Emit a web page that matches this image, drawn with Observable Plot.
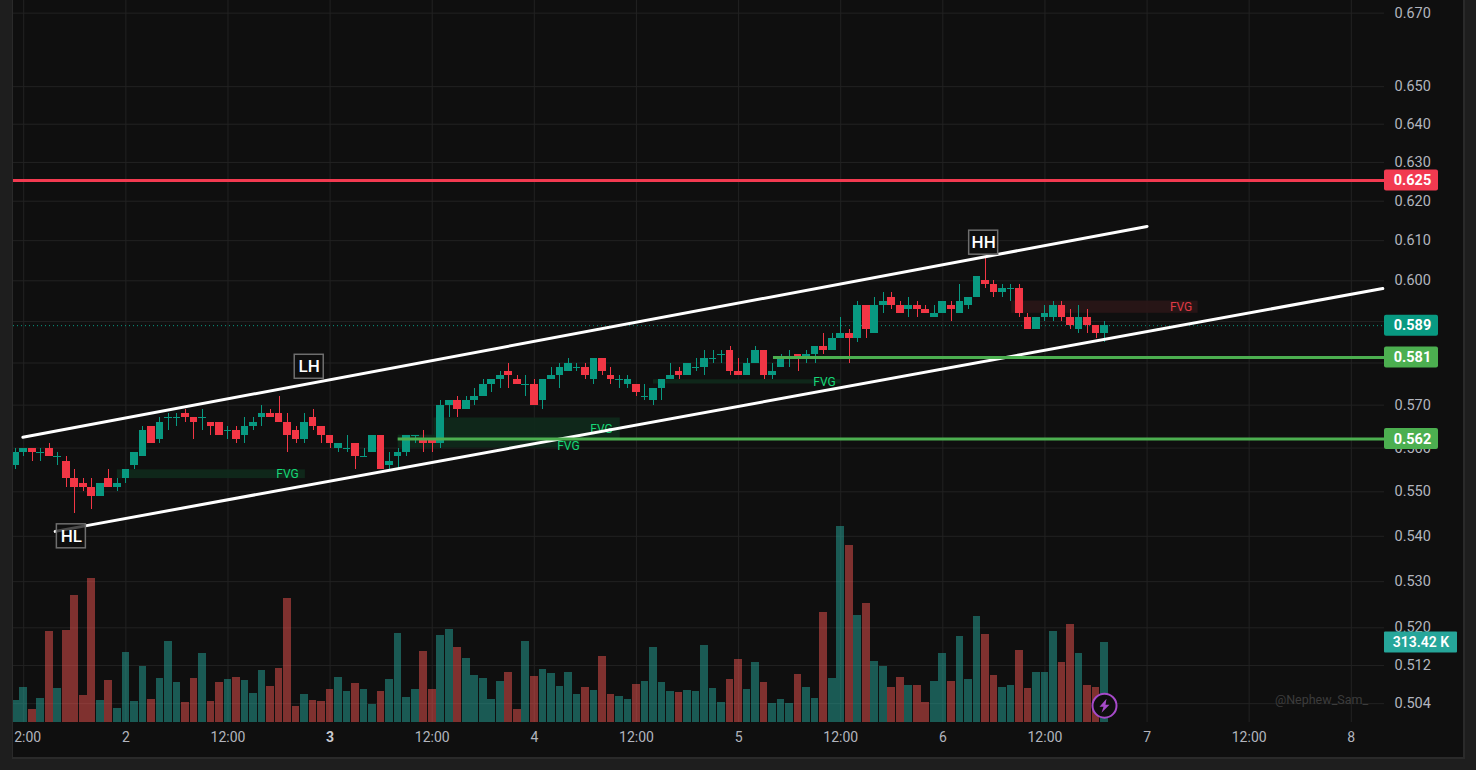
<!DOCTYPE html>
<html>
<head>
<meta charset="utf-8">
<script src="https://cdn.jsdelivr.net/npm/d3@7"></script>
<script src="https://cdn.jsdelivr.net/npm/@observablehq/plot@0.6"></script>
<style>
html,body{margin:0;padding:0;background:#1e1e1e;width:1476px;height:770px;overflow:hidden}
#wrap{position:absolute;left:12px;top:0;width:1450px;height:757px;border-left:1px solid #2a2a2a;border-right:2px solid #2a2a2a;border-bottom:2px solid #2a2a2a;background:#0f0f0f}
#wrap svg{position:absolute;left:0;top:0}
</style>
</head>
<body>
<div id="wrap"></div>
<script>
// Hourly candles, first one 13 hours before the start of day 2
const firstHour = -13;
const opens = [
.556,.559,.560,.559,.560,.558,.557,.553,.552,.551,
.549,.553,.551,.553,.556,.558,.565,.562,.567,.567,
.568,.567,.567,.566,.566,.564,.564,.563,.565,.567,
.568,.568,.566,.564,.562,.567,.565,.563,.560,.560,
.561,.558,.559,.563,.556,.558,.559,.563,.562,.562,
.561,.570,.571,.569,.571,.572,.575,.576,.578,.576,
.575,.575,.571,.576,.577,.578,.579,.579,.576,.581,
.577,.576,.575,.575,.572,.571,.574,.576,.578,.577,
.579,.579,.581,.582,.583,.578,.577,.580,.583,.577,
.579,.581,.582,.581,.582,.584,.583,.586,.587,.586,
.594,.587,.594,.596,.594,.593,.594,.593,.591,.592,
.594,.592,.594,.596,.600,.599,.597,.598,.598,.591,
.588,.591,.591,.594,.591,.588,.591,.589,.587];
const highs = [
.560,.560,.560,.560,.561,.559,.558,.555,.553,.553,
.552,.555,.553,.555,.559,.565,.565,.567,.568,.568,
.569,.567,.569,.566,.566,.565,.565,.567,.567,.570,
.569,.572,.568,.565,.568,.569,.565,.563,.561,.563,
.561,.560,.563,.563,.559,.560,.563,.563,.564,.562,
.571,.571,.572,.572,.574,.576,.576,.578,.580,.577,
.577,.576,.576,.579,.580,.581,.580,.580,.581,.581,
.579,.577,.577,.575,.575,.574,.576,.580,.579,.580,
.581,.583,.583,.583,.584,.581,.581,.584,.583,.580,
.582,.583,.582,.583,.584,.587,.587,.591,.588,.595,
.594,.596,.597,.597,.595,.596,.595,.594,.594,.595,
.595,.599,.596,.601,.606,.600,.599,.599,.599,.592,
.591,.594,.595,.595,.593,.594,.593,.589,.590];
const lows = [
.555,.558,.557,.557,.558,.556,.551,.545,.550,.546,
.549,.551,.550,.552,.555,.558,.561,.561,.564,.565,
.566,.562,.564,.563,.563,.562,.561,.561,.564,.565,
.567,.566,.559,.561,.561,.564,.561,.560,.559,.559,
.555,.558,.559,.555,.555,.555,.558,.561,.559,.559,
.560,.567,.567,.569,.570,.572,.573,.574,.574,.575,
.572,.570,.569,.576,.574,.578,.578,.576,.575,.577,
.575,.574,.574,.572,.571,.570,.571,.576,.576,.577,
.578,.577,.580,.580,.577,.577,.577,.580,.576,.576,
.579,.579,.578,.580,.580,.582,.583,.586,.580,.585,
.586,.587,.592,.593,.592,.591,.591,.592,.591,.592,
.590,.592,.593,.596,.598,.596,.596,.595,.591,.588,
.588,.590,.590,.590,.588,.587,.587,.586,.585];
const closes = [
.559,.560,.559,.559,.558,.558,.553,.551,.551,.549,
.552,.551,.552,.555,.559,.564,.561,.566,.567,.567,
.567,.566,.567,.565,.563,.564,.562,.565,.566,.568,
.567,.566,.563,.562,.566,.565,.563,.561,.561,.560,
.558,.558,.563,.555,.557,.559,.563,.563,.561,.561,
.570,.571,.569,.571,.572,.575,.576,.577,.577,.575,
.575,.570,.576,.577,.579,.580,.579,.577,.581,.578,
.576,.576,.576,.573,.572,.574,.576,.577,.577,.580,
.579,.581,.581,.582,.578,.577,.580,.583,.577,.578,
.581,.581,.581,.582,.584,.583,.586,.587,.586,.594,
.588,.594,.595,.594,.592,.594,.593,.592,.592,.595,
.593,.595,.596,.601,.599,.597,.598,.598,.592,.588,
.591,.592,.594,.591,.589,.591,.589,.587,.589];
const volumes = [
86,137,51,94,357,133,360,498,106,564,
86,165,55,274,82,219,90,172,317,157,
78,172,270,82,157,168,176,165,114,204,
141,212,486,63,110,86,82,129,176,121,
153,129,71,121,168,349,98,129,278,129,
341,364,294,251,184,172,90,161,196,51,
317,180,208,192,141,196,110,137,125,259,
110,102,90,149,161,294,157,121,118,125,
121,302,133,78,168,247,129,235,157,74,
90,74,188,137,94,431,172,768,693,419,
466,239,219,137,176,145,145,78,161,270,
161,337,168,415,345,184,137,145,282,133,
196,196,357,235,384,270,145,137,313.42];

const xTicks = [-12,0,12,24,36,48,60,72,84,96,108,120,132,144];
const xLabels = ["12:00","2","12:00","3","12:00","4","12:00","5","12:00","6","12:00","7","12:00","8"];
const priceGrid = [0.67,0.65,0.64,0.63,0.62,0.61,0.6,0.59,0.58,0.57,0.56,0.55,0.54,0.53,0.52,0.512,0.504];
const priceLabels = [0.67,0.65,0.64,0.63,0.62,0.61,0.6,0.57,0.56,0.55,0.54,0.53,0.52,0.512,0.504];

const levels = [
  {price:0.6253,from:-13.2,color:"#f23a50"},
  {price:0.5813,from:76.1,color:"#4caf50"},
  {price:0.5621,from:32,color:"#4caf50"}
];
const lastPrice = 0.589;
const lastVolume = 313.42;
const channels = [
  {id:"upper",h:-12.1,p:0.5625},{id:"upper",h:120,p:0.6136},
  {id:"lower",h:-8.3,p:0.5411},{id:"lower",h:147.7,p:0.5981}
];
const gaps = [
  {h1:-1,h2:21.1,p1:0.553,p2:0.555,th:19,tp:0.5540,fill:"#0f2a1c",ink:"#16d877"},
  {h1:36.2,h2:58.1,p1:0.562,p2:0.567,th:55.9,tp:0.5645,fill:"#0f2a1c",ink:"#16d877"},
  {h1:32,h2:53.4,p1:0.560,p2:0.563,th:52,tp:0.5605,fill:"#0f2a1c",ink:"#16d877"},
  {h1:62,h2:84.1,p1:0.575,p2:0.576,th:82.1,tp:0.5755,fill:"#0f2a1c",ink:"#16d877"},
  {h1:104.1,h2:126,p1:0.592,p2:0.595,th:124,tp:0.5935,fill:"#2a1617",ink:"#e03a46"}
];
const pivots = [
  {h:-6.4,p:0.5400,t:"HL"},
  {h:21.55,p:0.5791,t:"LH"},
  {h:100.8,p:0.6095,t:"HH"}
];
const watermark = [{h:140.5,p:0.5047,t:"@Nephew_Sam_"}];

const candles = opens.map((o,i)=>({h:firstHour+i,o,hi:highs[i],lo:lows[i],c:closes[i],v:volumes[i],up:closes[i]>=o}));
const up="#089981", down="#f23645";
const colorOf=d=>d.up?up:down;
const xDomain=[-13.2,147.9];
const xMax=xDomain[1];
const font="Roboto, sans-serif";
const base={width:1450,height:757,marginLeft:0,marginRight:79,marginTop:0,marginBottom:35,
  style:{fontFamily:font,fontSize:"14px",position:"absolute"}};
const label=d=>xLabels[xTicks.indexOf(d)];

const price = Plot.plot({...base,
  style:{...base.style,background:"#0f0f0f",color:"#b2b5be"},
  x:{domain:xDomain},
  y:{type:"log",domain:[0.5001,0.6735]},
  marks:[
    Plot.gridX(xTicks,{stroke:"#222",strokeOpacity:1}),
    Plot.gridY(priceGrid,{stroke:"#222",strokeOpacity:1}),
    Plot.axisX(xTicks.filter(d=>d!==24),{tickSize:0,tickPadding:10,tickFormat:label,label:null,fill:"#b2b5be",fontSize:14}),
    Plot.axisX([24],{tickSize:0,tickPadding:10,tickFormat:label,label:null,fill:"#c8cad0",fontSize:14,fontWeight:700}),
    Plot.axisY(priceLabels,{anchor:"right",tickSize:0,tickPadding:10,tickFormat:d=>d.toFixed(3),label:null,fill:"#b2b5be",fontSize:14.5}),
    // fair value gaps
    Plot.rect(gaps,{x1:"h1",x2:"h2",y1:"p1",y2:"p2",fill:"fill",fillOpacity:0.9}),
    // last price dotted line
    Plot.ruleY([lastPrice],{stroke:up,strokeDasharray:"1,3",strokeWidth:1}),
    // wicks and bodies
    Plot.ruleX(candles,{x:"h",y1:"lo",y2:"hi",stroke:colorOf,shapeRendering:"crispEdges"}),
    Plot.rect(candles.filter(d=>d.o!==d.c),{x1:d=>d.h-0.45,x2:d=>d.h+0.45,y1:"o",y2:"c",fill:colorOf,shapeRendering:"crispEdges"}),
    Plot.ruleY(candles.filter(d=>d.o===d.c),{y:"c",x1:d=>d.h-0.45,x2:d=>d.h+0.45,stroke:colorOf,shapeRendering:"crispEdges"}),
    Plot.text(gaps,{x:"th",y:"tp",text:()=>"FVG",fill:"ink",fontSize:12}),
    // channel and level lines
    Plot.line(channels,{x:"h",y:"p",z:"id",stroke:"#ffffff",strokeWidth:3}),
    Plot.ruleY(levels,{y:"price",x1:"from",x2:()=>xMax,stroke:"color",strokeWidth:3}),
    // pivots
    Plot.rect(pivots,{x1:"h",x2:"h",y1:"p",y2:"p",insetLeft:-14.5,insetRight:-14.5,insetTop:-12,insetBottom:-12,fill:"#0f0f0f",fillOpacity:0.75,stroke:"#6e6e6e",strokeWidth:1.5}),
    Plot.text(pivots,{x:"h",y:"p",text:"t",fill:"#ffffff",fontSize:17,fontWeight:500}),
    Plot.text(watermark,{x:"h",y:"p",text:"t",fill:"#3c3c3c",fontSize:12.5}),
    // axis tags
    Plot.rect(levels,{x1:()=>xMax,x2:()=>xMax,y1:"price",y2:"price",insetLeft:0,insetRight:-54,insetTop:-10.5,insetBottom:-10.5,fill:"color",rx:2}),
    Plot.rect([lastPrice],{x1:()=>xMax,x2:()=>xMax,y1:d=>d,y2:d=>d,insetLeft:0,insetRight:-54,insetTop:-10.5,insetBottom:-10.5,fill:up,rx:2}),
    Plot.text(levels,{x:()=>xMax,y:"price",text:d=>d.price.toFixed(3),dx:28,fill:"#fff",fontSize:14.5,fontWeight:700}),
    Plot.text([lastPrice],{x:()=>xMax,y:d=>d,text:d=>d.toFixed(3),dx:28,fill:"#fff",fontSize:14.5,fontWeight:700})
  ]
});

// lightning bolt icon of the live marker
const bolt={draw(ctx){ctx.moveTo(2,-7);ctx.lineTo(-5,1);ctx.lineTo(-1,1);ctx.lineTo(-3,7);ctx.lineTo(5,-1);ctx.lineTo(1,-1);ctx.closePath();}};
const marker=[{h:115,v:66}];

const volume = Plot.plot({...base,
  style:{...base.style,background:"transparent"},
  x:{domain:xDomain,axis:null},
  y:{domain:[0,2829],axis:null},
  marks:[
    Plot.rect(candles,{x1:d=>d.h-0.45,x2:d=>d.h+0.45,y1:0,y2:"v",fill:d=>d.up?"rgba(38,166,154,0.5)":"rgba(239,83,80,0.5)",shapeRendering:"crispEdges"}),
    Plot.rect([lastVolume],{x1:()=>xMax,x2:()=>xMax,y1:d=>d,y2:d=>d,insetLeft:0,insetRight:-73,insetTop:-10.5,insetBottom:-10.5,fill:"#26a69a",rx:1}),
    Plot.text([lastVolume],{x:()=>xMax,y:d=>d,text:d=>d+" K",dx:36.5,fill:"#fff",fontSize:14,fontWeight:600}),
    Plot.dot(marker,{x:"h",y:"v",r:12,fill:"#0f0f0f",stroke:"#a64ac9",strokeWidth:2}),
    Plot.dot(marker,{x:"h",y:"v",symbol:bolt,r:6,fill:"#a64ac9"})
  ]
});
const wrap=document.getElementById("wrap");
wrap.append(price,volume);
</script>
</body>
</html>
